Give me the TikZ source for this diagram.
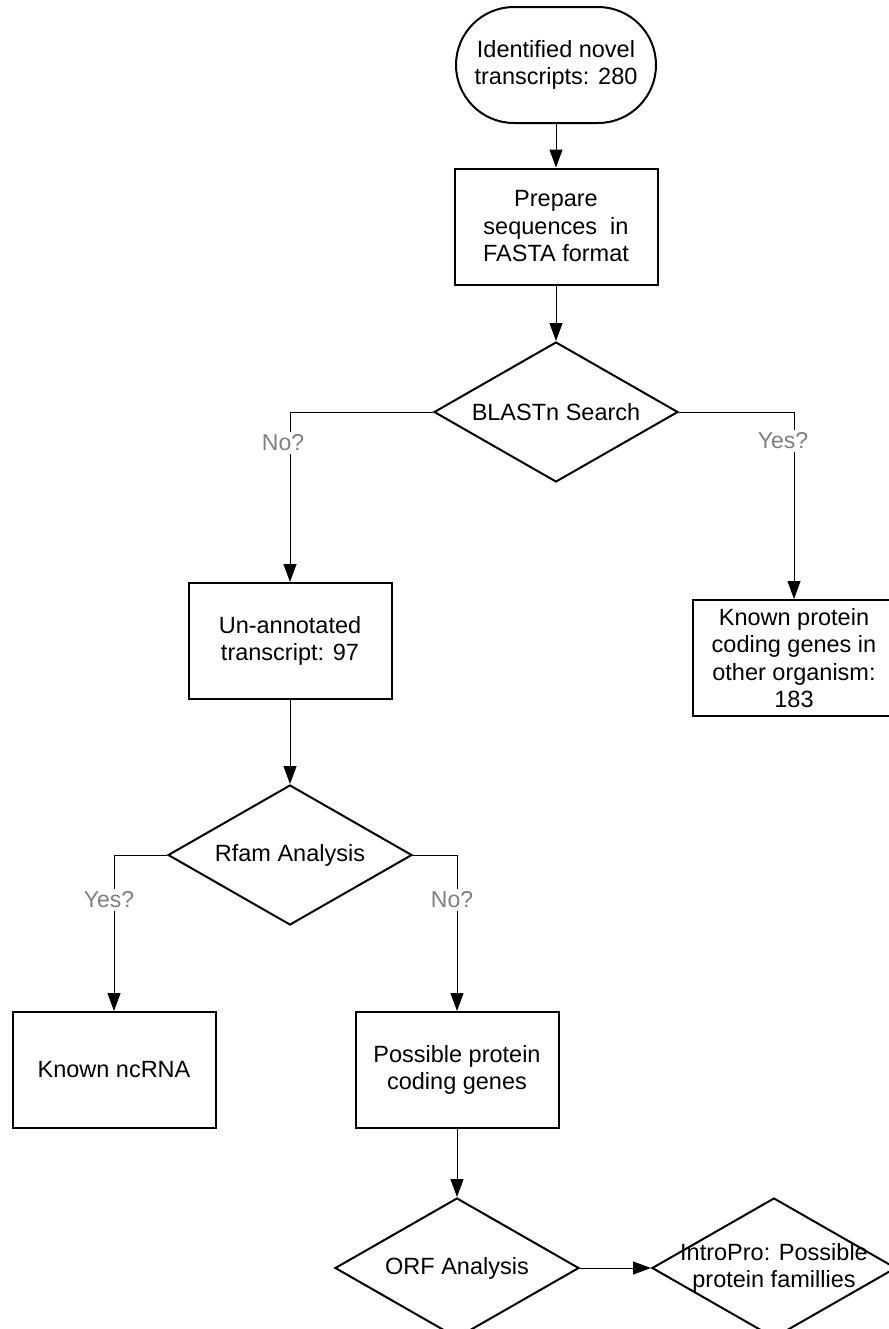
\documentclass[tikz,border=0pt]{standalone}
\usepackage{fontspec}
\setmainfont{Liberation Sans}
\usetikzlibrary{shapes.geometric,arrows.meta}
\begin{document}
\begin{tikzpicture}[x=0.5pt,y=-0.5pt,
  every node/.style={font=\fontsize{11.75pt}{13.75pt}\selectfont},
  boxnode/.style={draw, line width=1pt, minimum width=101.5pt, minimum height=58pt, align=center, inner sep=0pt},
  termnode/.style={draw, line width=1pt, rounded corners=29pt, minimum width=100pt, minimum height=58pt, align=center, inner sep=0pt},
  decision/.style={draw, diamond, line width=1pt, minimum width=122pt, minimum height=70pt, inner sep=0pt, aspect=1.74},
  conn/.style={line width=0.5pt, -{Triangle[length=9pt,width=6.5pt]}},
  lbl/.style={fill=white, text=black!50, inner sep=1.5pt, font=\fontsize{11.5pt}{13pt}\selectfont}]
\useasboundingbox (0,0) rectangle (889,1329);
\clip (0,0) rectangle (889,1329);

% nodes
\node[termnode] (t) at (556,65) {Identified novel\\transcripts: 280};
\node[boxnode] (b1) at (556,226.5) {Prepare\\sequences\ \ in\\FASTA format};
\node[decision, label={[name=d1t]center:BLASTn Search}] (d1) at (556,412) {};
\node[boxnode] (b2) at (290,641) {Un-annotated\\transcript: 97};
\node[boxnode] (b3) at (794,658) {Known protein\\coding genes in\\other organism:\\183};
\node[decision, label={[name=d2t]center:Rfam Analysis}] (d2) at (290,855) {};
\node[boxnode] (b4) at (114,1070) {Known ncRNA};
\node[boxnode] (b5) at (457,1070) {Possible protein\\coding genes};
\node[decision, label={[name=d3t]center:ORF Analysis}] (d3) at (457,1268) {};
\node[decision, label={[name=d4t,align=center]center:{IntroPro: Possible\\protein famillies}}] (d4) at (774,1268) {};

% connectors
\draw[conn] (t.south) -- (b1.north);
\draw[conn] (b1.south) -- (d1.north);
\draw[conn] (d1.west) -| (b2.north);
\draw[conn] (d1.east) -| (b3.north);
\draw[conn] (b2.south) -- (d2.north);
\draw[conn] (d2.west) -| (b4.north);
\draw[conn] (d2.east) -| (b5.north);
\draw[conn] (b5.south) -- (d3.north);
\draw[conn] (d3.east) -- (d4.west);

% branch labels
\node[lbl] (l1) at (283,443) {No?};
\node[lbl] (l2) at (783,441) {Yes?};
\node[lbl] (l3) at (109,900) {Yes?};
\node[lbl] (l4) at (452,900) {No?};
\end{tikzpicture}
\end{document}
